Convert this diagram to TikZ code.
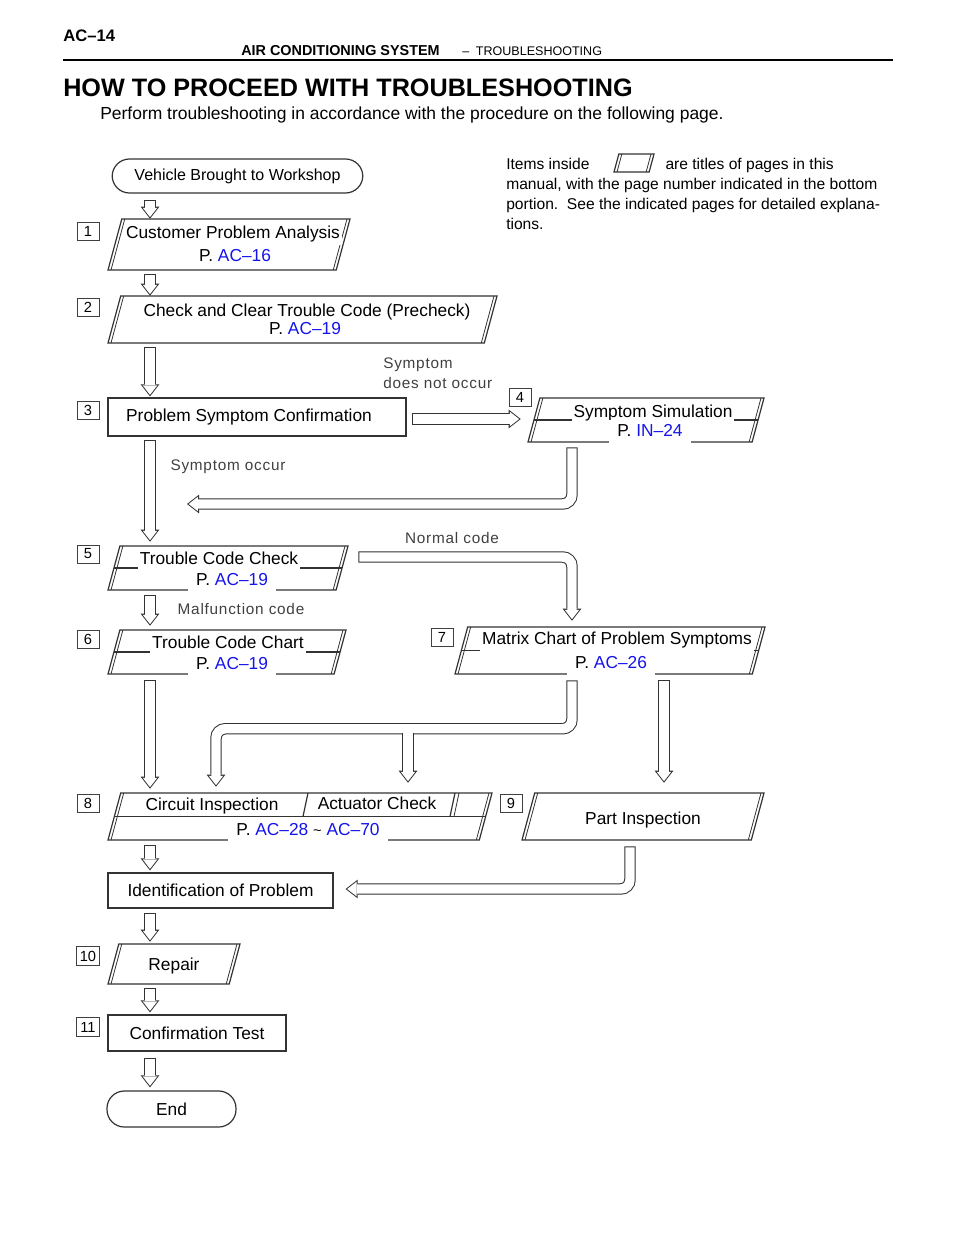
\documentclass[tikz,border=0pt]{standalone}
\usepackage{fontspec}
\setmainfont{Liberation Sans}
\newfontfamily\labelfont[LetterSpace=5]{Liberation Sans}
\usetikzlibrary{arrows.meta,calc,positioning}
\definecolor{refblue}{RGB}{20,20,235}
\newcommand{\pgref}[1]{\textcolor{refblue}{#1}}
% parallelogram page box: name, bottom-left x, top y, top-right x, bottom y, divider (0/1)
\newcommand{\pgbox}[6]{%
  \pgfmathsetmacro{\boxslant}{0.27*(#5-#3)}%
  \draw[frame] (#2,#5) -- ({#2+\boxslant},#3) -- (#4,#3) -- ({#4-\boxslant},#5) -- cycle;
  \draw[frame, line width=0.6pt] ({#2+3},#5) -- ({#2+\boxslant+3},#3) ({#4-\boxslant-3},#5) -- ({#4-3},#3);
  \ifnum#6=1 \draw[frame] ({#2+\boxslant/2},{(#3+#5)/2}) -- ({#4-\boxslant/2},{(#3+#5)/2});\fi
  \node[inner sep=0pt, minimum width={(#4-#2)*0.75pt}, minimum height={(#5-#3)*0.75pt}] (#1) at ({(#2+#4)/2},{(#3+#5)/2}) {};%
}

\begin{document}
\begin{tikzpicture}[x=0.75pt, y=-0.75pt,
    frame/.style={draw=black!80, line width=0.9pt},
    rbox/.style={frame, inner sep=0pt, font=\fontsize{13}{15}\selectfont},
    term/.style={rbox, rounded corners=13pt},
    stepno/.style={draw=black!75, line width=0.7pt, minimum width=16.5pt, minimum height=13.5pt, inner sep=0pt, font=\fontsize{11}{12}\selectfont},
    ttl/.style={fill=white, inner sep=1.5pt, text height=10pt, text depth=3.2pt, yshift=-1.3pt, font=\fontsize{13}{15}\selectfont},
    pref/.style={ttl, inner xsep=6pt, inner ysep=2.5pt},
    cue/.style={text=black!75, inner sep=0pt, font=\labelfont\fontsize{11.5}{15}\selectfont},
    pipe/.style={draw=white, line width=7.1pt, rounded corners=7pt,
        shorten <=0.75pt, shorten >=1.2pt,
        -{Triangle[length=7pt, width=10.9pt, line width=0pt]},
        preaction={draw=black!80, line width=8.6pt, shorten <=0pt, shorten >=0pt,
            -{Triangle[length=9pt, width=14pt, line width=0pt]}}}
]
    \useasboundingbox (0,0) rectangle (960,1242);

    % page header
    \node[anchor=west, inner sep=0pt, font=\fontsize{12.5}{14}\selectfont\bfseries] (pgno) at (63,36) {AC–14};
    \node[anchor=west, inner sep=0pt] (hdr) at (241,51) {{\fontsize{10.8}{12}\selectfont\bfseries AIR CONDITIONING SYSTEM}\hspace{17pt}{\fontsize{9.4}{12}\selectfont –\hspace{5pt}TROUBLESHOOTING}};
    \draw[line width=1.1pt] (63,60) -- (893,60);
    \node[anchor=west, inner sep=0pt, font=\fontsize{18.9}{20}\selectfont\bfseries] (head) at (63,88) {HOW TO PROCEED WITH TROUBLESHOOTING};
    \node[anchor=west, inner sep=0pt, font=\fontsize{13.1}{15}\selectfont] (intro) at (100,115) {Perform troubleshooting in accordance with the procedure on the following page.};

    % legend
    \node[anchor=north west, align=left, inner sep=0pt, font=\fontsize{11.7}{15}\selectfont] (note) at (506,158) {Items inside\hspace*{57pt}are titles of pages in this\\manual, with the page number indicated in the bottom\\portion.\ \ See the indicated pages for detailed explana-\\tions.};
    \pgbox{icon}{614}{154}{654}{172}{0}

    % flow boxes
    \node[term, minimum width=188pt, minimum height=25.5pt, font=\fontsize{12}{14}\selectfont] (vehicle) at (237.5,176) {Vehicle Brought to Workshop};
    \coordinate (col) at (150,0);

    \node[stepno] (n1) at (88,231) {1};
    \pgbox{cpa}{108}{219}{350}{270}{0}
    \node[ttl] (cpa-t) at (233,232) {Customer Problem Analysis};
    \node[pref] (cpa-p) at (235,255) {P. \pgref{AC–16}};

    \node[stepno] (n2) at (88,307) {2};
    \pgbox{ccc}{108}{296}{497}{343}{0}
    \node[ttl] (ccc-t) at (307,310) {Check and Clear Trouble Code (Precheck)};
    \node[pref] (ccc-p) at (305,328) {P. \pgref{AC–19}};

    \node[stepno] (n3) at (88,410) {3};
    \node[rbox, minimum width=223.5pt, minimum height=28.5pt] (psc) at (257,417) {Problem Symptom Confirmation\hspace*{12pt}};
    \node[cue, anchor=west, align=left] (nocc) at (383,373) {Symptom\\does not occur};

    \node[stepno] (n4) at (520,397) {4};
    \pgbox{sim}{528}{398}{764}{442}{1}
    \node[ttl] (sim-t) at (653,411) {Symptom Simulation};
    \node[pref] (sim-p) at (650,430) {P. \pgref{IN–24}};

    \node[cue] (occ) at (228,467) {Symptom occur};
    \coordinate (merge) at (187,504);

    \node[stepno] (n5) at (88,554) {5};
    \pgbox{tcc}{108}{546}{348}{590}{1}
    \node[ttl] (tcc-t) at (219,558) {Trouble Code Check};
    \node[pref] (tcc-p) at (232,579) {P. \pgref{AC–19}};
    \node[cue] (norm) at (452,538) {Normal code};
    \node[cue] (malf) at (241,609) {Malfunction code};

    \node[stepno] (n6) at (88,639) {6};
    \pgbox{tch}{108}{630}{346}{674}{1}
    \node[ttl] (tch-t) at (228,642) {Trouble Code Chart};
    \node[pref] (tch-p) at (232,663) {P. \pgref{AC–19}};

    \node[stepno] (n7) at (442,637) {7};
    \pgbox{mtx}{455}{627}{765}{674}{1}
    \node[ttl] (mtx-t) at (617,638) {Matrix Chart of Problem Symptoms};
    \node[pref] (mtx-p) at (611,662) {P. \pgref{AC–26}};

    \node[stepno] (n8) at (88,803) {8};
    \pgbox{cir}{108}{793}{492}{840}{1}
    \draw[frame] (303,816.5) -- (308,793) (450,816.5) -- (455,793);
    \draw[frame, line width=0.6pt] (454,816.5) -- (459,793);
    \node[ttl, fill=none] (cir-t) at (212,804) {Circuit Inspection};
    \node[ttl, fill=none] (act-t) at (377,803) {Actuator Check};
    \node[pref] (cir-p) at (308,829) {P. \pgref{AC–28} {\fontsize{11}{11}\selectfont\textasciitilde} \pgref{AC–70}};

    \node[stepno] (n9) at (511,803) {9};
    \pgbox{prt}{522}{793}{764}{840}{0}
    \node[ttl] (prt-t) at (643,818) {Part Inspection};

    \node[rbox, minimum width=168.75pt, minimum height=26.25pt] (ident) at (220.5,890.5) {Identification of Problem};

    \node[stepno, minimum width=17pt, minimum height=14pt] (n10) at (88,956) {10};
    \pgbox{rep}{108}{944}{240}{984}{0}
    \node[ttl] (rep-t) at (174,964) {Repair};

    \node[stepno, minimum width=17pt, minimum height=14pt] (n11) at (88,1027) {11};
    \node[rbox, minimum width=133.5pt, minimum height=27pt] (conf) at (197,1033) {Confirmation Test};
    \node[term, minimum width=96.75pt, minimum height=27pt] (fin) at (171.5,1109) {End};

    % hollow flow arrows
    \draw[pipe] ($(col |- vehicle.south)+(0,6)$) -- (col |- cpa.north);
    \draw[pipe] ($(col |- cpa.south)+(0,4)$) -- (col |- ccc.north);
    \draw[pipe] ($(col |- ccc.south)+(0,4)$) -- ($(col |- psc.north)+(0,-1)$);
    \draw[pipe] ($(psc.east)+(5,2)$) -- ($(psc.east -| sim.west)+(-7,2)$);
    \draw[pipe] ($(col |- psc.south)+(0,3)$) -- ($(col |- tcc.north)+(0,-4)$);
    \draw[pipe] ($(sim.south)+(-74,5)$) |- (merge);
    \draw[pipe] ($(tcc.east)+(10,-11)$) -| ($(mtx.north)+(-38,-6)$);
    \draw[pipe] ($(col |- tcc.south)+(0,5)$) -- ($(col |- tch.north)+(0,-4)$);
    \draw[pipe] ($(col |- tch.south)+(0,6)$) -- ($(col |- cir.north)+(0,-4)$);
    \draw[pipe] ($(mtx.south)+(-38,6)$) |- ($(cir.north)+(-84,-64)$) -- ($(cir.north)+(-84,-6)$);
    \draw[pipe, shorten <=0pt] ($(cir.north)+(108,-59.3)$) -- ($(cir.north)+(108,-10)$);
    \draw[pipe] ($(mtx.south)+(54,6)$) -- ($(prt.north)+(21,-10)$);
    \draw[pipe] ($(prt.south)+(-13,6)$) |- ($(ident.east)+(12,-1.5)$);
    \draw[pipe] ($(col |- cir.south)+(0,5)$) -- ($(col |- ident.north)+(0,-2)$);
    \draw[pipe] ($(col |- ident.south)+(0,4)$) -- ($(col |- rep.north)+(0,-2)$);
    \draw[pipe] ($(col |- rep.south)+(0,4)$) -- ($(col |- conf.north)+(0,-2)$);
    \draw[pipe] ($(col |- conf.south)+(0,6)$) -- ($(col |- fin.north)+(0,-3)$);
\end{tikzpicture}
\end{document}
